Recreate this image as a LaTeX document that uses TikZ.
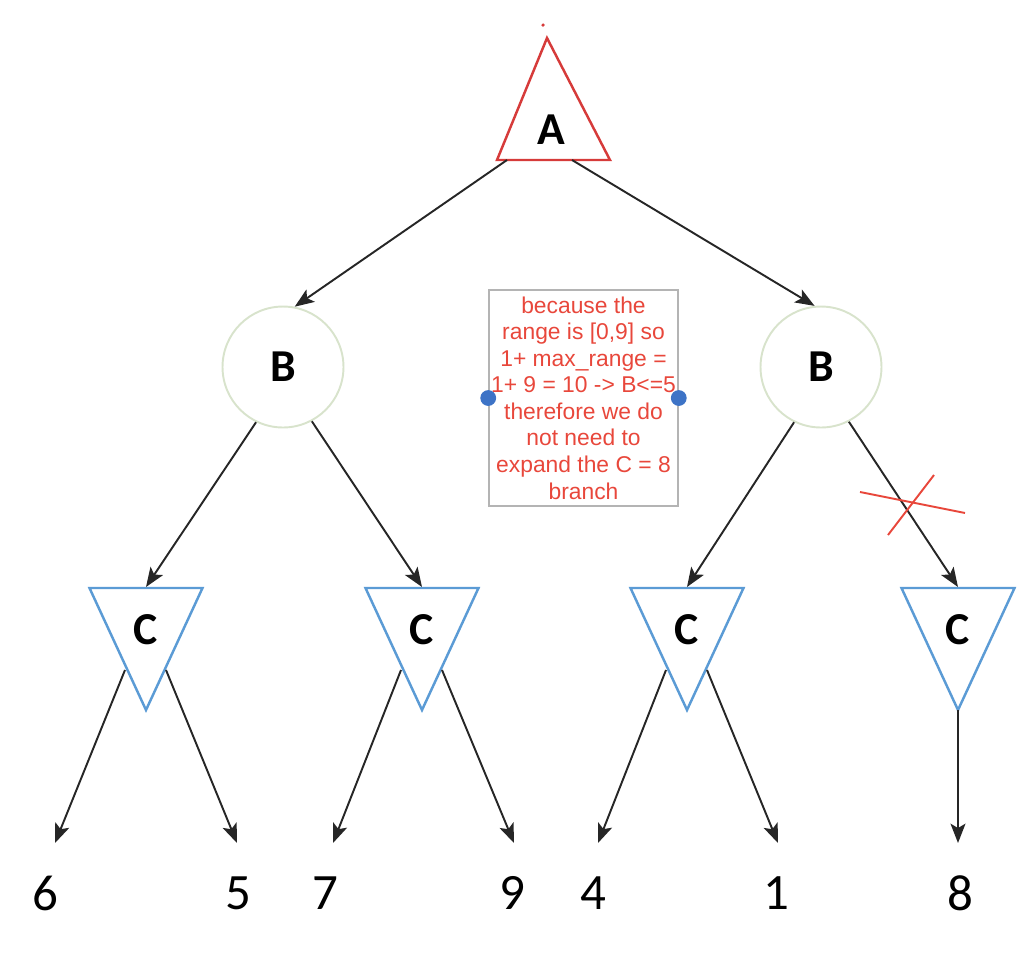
\documentclass[tikz,border=0pt]{standalone}
\usepackage{fontspec}
\setmainfont{Carlito}
\newfontfamily\notefont{Liberation Sans}
\usetikzlibrary{arrows.meta}
\definecolor{maxred}{HTML}{D63B3A}
\definecolor{chanceblue}{HTML}{5B9BD5}
\definecolor{mingreen}{HTML}{D8E3CC}
\definecolor{notered}{HTML}{E8473B}
\definecolor{boxgray}{HTML}{B4B4B4}
\definecolor{dotblue}{HTML}{3D73C6}

\begin{document}
\begin{tikzpicture}[x=0.02cm,y=-0.02cm,
  arrowline/.style={draw=black!85,line width=1.1pt,-{Stealth[length=11pt,width=8.5pt,inset=2.5pt]}},
  letter/.style={font=\fontsize{26}{26}\selectfont\bfseries},
  leaf/.style={font=\fontsize{29}{29}\selectfont},
  maxtri/.style={draw=maxred,line width=1.4pt},
  chancetri/.style={draw=chanceblue,line width=1.4pt},
  minnode/.style={circle,draw=mingreen,line width=1.1pt,minimum size=2.42cm,inner sep=0pt,letter},
  notebox/.style={draw=boxgray,line width=0.9pt,minimum width=3.78cm,minimum height=4.32cm,
    inner sep=0pt,align=center,text=notered,font=\notefont\fontsize{13}{15.1}\selectfont},
  handle/.style={circle,fill=dotblue,inner sep=0pt,minimum size=9pt},
  cross/.style={draw=notered,line width=1.1pt}]
  \useasboundingbox (0,0) rectangle (1028,958);

  % max node
  \draw[maxtri] (547,38) -- (610,160) -- (497,160) -- cycle;
  \fill[maxred] (543,25) circle (1pt);
  \node[letter] (A) at (551,130) {A};
  \coordinate (A-l) at (507,160);
  \coordinate (A-r) at (572,160);

  % min nodes
  \node[minnode] (B1) at (283,367) {B};
  \node[minnode] (B2) at (821,367) {B};

  % chance nodes
  \foreach \i/\x in {1/146,2/422,3/687,4/958}{
    \draw[chancetri] (\x-56.5,588) -- (\x+56.5,588) -- (\x,710) -- cycle;
    \node[letter] (C\i) at (\x,630) {C};
    \coordinate (C\i-top) at (\x,587);
    \coordinate (C\i-l) at (\x-21,670);
    \coordinate (C\i-r) at (\x+20,670);
    \coordinate (C\i-bot) at (\x,710);
  }

  % leaves
  \node[leaf] (L1) at (45,893) {6};
  \node[leaf] (L2) at (238,893) {5};
  \node[leaf] (L3) at (325,893) {7};
  \node[leaf] (L4) at (512,893) {9};
  \node[leaf] (L5) at (593,893) {4};
  \node[leaf] (L6) at (776,893) {1};
  \node[leaf] (L7) at (960,893) {8};
  \coordinate (t1) at (55,843);
  \coordinate (t2) at (237,843);
  \coordinate (t3) at (333,843);
  \coordinate (t4) at (514,843);
  \coordinate (t5) at (598,843);
  \coordinate (t6) at (778,843);
  \coordinate (t7) at (958,843);

  \path[every edge/.style={arrowline}]
    (A-l) edge (B1.79)
    (A-r) edge (B2.96)
    (B1.244) edge (C1-top)
    (B1.298) edge (C2-top)
    (B2.244) edge (C3-top)
    (B2.297) edge (C4-top)
    (C1-l) edge (t1)
    (C1-r) edge (t2)
    (C2-l) edge (t3)
    (C2-r) edge (t4)
    (C3-l) edge (t5)
    (C3-r) edge (t6)
    (C4-bot) edge (t7);

  % note
  \node[notebox] (note) at (583.5,398) {because the\\range is [0,9] so\\1+ max\_range =\\1+ 9 = 10 -> B<=5\\therefore we do\\not need to\\expand the C = 8\\branch};
  \node[handle] (h1) at (note.west) {};
  \node[handle] (h2) at (note.east) {};

  % pruned branch
  \draw[cross] (860,492) -- (965,513);
  \draw[cross] (888,535) -- (934,475);
\end{tikzpicture}
\end{document}
